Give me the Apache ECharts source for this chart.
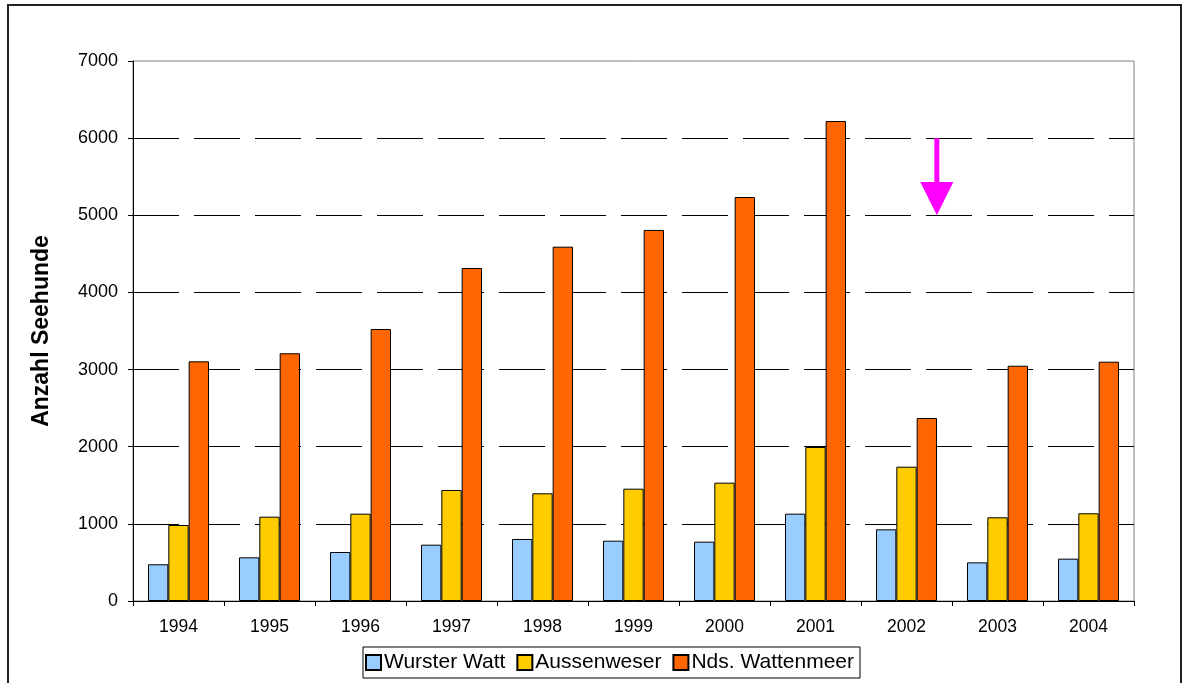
<!DOCTYPE html>
<html>
<head>
<meta charset="utf-8">
<script src="https://cdn.jsdelivr.net/npm/echarts@6/dist/echarts.min.js"></script>
<style>
  html, body { margin: 0; padding: 0; background: #fff; }
  #chart { width: 1183px; height: 683px; }
</style>
</head>
<body>
<div id="chart"></div>
<script>
// Seehund-Zählungen 1994-2004
const years = ['1994', '1995', '1996', '1997', '1998', '1999', '2000', '2001', '2002', '2003', '2004']
const wursterWatt = [476, 566, 635, 730, 804, 782, 769, 1132, 929, 501, 549]
const aussenweser = [985, 1093, 1132, 1439, 1396, 1456, 1534, 1996, 1741, 1085, 1137]
const ndsWattenmeer = [3107, 3211, 3526, 4317, 4593, 4810, 5237, 6222, 2372, 3050, 3102]
const seriesNames = ['Wurster Watt', 'Aussenweser', 'Nds. Wattenmeer']
const seriesColors = ['#99ccff', '#ffcc00', '#ff6600']

// Pfeil (Markierung bei 2002)
const arrowYear = '2002'
const arrowFrom = 6000
const arrowTo = 5000

const font = 'Arial, "Liberation Sans", sans-serif'

const chart = echarts.init(document.getElementById('chart'))

const makeSeries = (name, data, color) => ({
  name,
  type: 'bar',
  data,
  barGap: '0%',
  barCategoryGap: '33%',
  itemStyle: { color, borderColor: '#000', borderWidth: 1 },
  emphasis: { disabled: true }
})

chart.setOption({
  animation: false,
  backgroundColor: '#fff',
  grid: {
    left: 133, right: 49, top: 61, bottom: 82,
    show: true,
    borderColor: '#808080',
    borderWidth: 1
  },
  legend: {
    left: 363,
    top: 647,
    data: seriesNames,
    itemWidth: 15,
    itemHeight: 15,
    itemGap: 11,
    icon: 'rect',
    borderColor: '#000',
    borderWidth: 1,
    padding: [5, 6, 5, 2],
    textStyle: { fontFamily: font, fontSize: 21, color: '#000', padding: [0, 0, 0, -2] }
  },
  xAxis: {
    type: 'category',
    data: years,
    axisLine: { lineStyle: { color: '#000', width: 1 } },
    axisTick: { show: true, alignWithLabel: false, length: 5, lineStyle: { color: '#000' } },
    axisLabel: { fontFamily: font, fontSize: 17.5, color: '#000', margin: 17 }
  },
  yAxis: {
    type: 'value',
    min: 0,
    max: 7000,
    interval: 1000,
    name: 'Anzahl Seehunde',
    nameLocation: 'middle',
    nameGap: 80,
    nameTextStyle: { fontFamily: font, fontSize: 23, fontWeight: 'bold', color: '#000' },
    axisLine: { show: true, lineStyle: { color: '#000', width: 1 } },
    axisTick: { show: true, length: 5, lineStyle: { color: '#000' } },
    axisLabel: { fontFamily: font, fontSize: 18, color: '#000', margin: 15, formatter: (v) => String(v) },
    splitLine: {
      show: true,
      showMinLine: false,
      showMaxLine: false,
      lineStyle: { color: '#000', width: 1, type: [46, 15] }
    }
  },
  series: [
    makeSeries(seriesNames[0], wursterWatt, seriesColors[0]),
    makeSeries(seriesNames[1], aussenweser, seriesColors[1]),
    makeSeries(seriesNames[2], ndsWattenmeer, seriesColors[2])
  ]
})

// Rahmen + Pfeil, über die Achsen positioniert
const idx = years.indexOf(arrowYear)
const bandW = chart.convertToPixel({ xAxisIndex: 0 }, years[1]) - chart.convertToPixel({ xAxisIndex: 0 }, years[0])
const ax = chart.convertToPixel({ xAxisIndex: 0 }, idx) + bandW / 3
const yTop = chart.convertToPixel({ yAxisIndex: 0 }, arrowFrom)
const yTip = chart.convertToPixel({ yAxisIndex: 0 }, arrowTo)
const headLen = (yTip - yTop) * 0.43

chart.setOption({
  graphic: [
    {
      type: 'rect',
      shape: { x: 8, y: 5, width: 1173, height: 700 },
      style: { fill: 'none', stroke: '#222', lineWidth: 2 },
      silent: true
    },
    {
      type: 'line',
      shape: { x1: ax, y1: yTop, x2: ax, y2: yTip - headLen + 1 },
      style: { stroke: '#ff00ff', lineWidth: 5 },
      silent: true
    },
    {
      type: 'polygon',
      shape: { points: [[ax - 16.5, yTip - headLen], [ax + 16.5, yTip - headLen], [ax, yTip]] },
      style: { fill: '#ff00ff' },
      silent: true
    }
  ]
})
</script>
</body>
</html>
